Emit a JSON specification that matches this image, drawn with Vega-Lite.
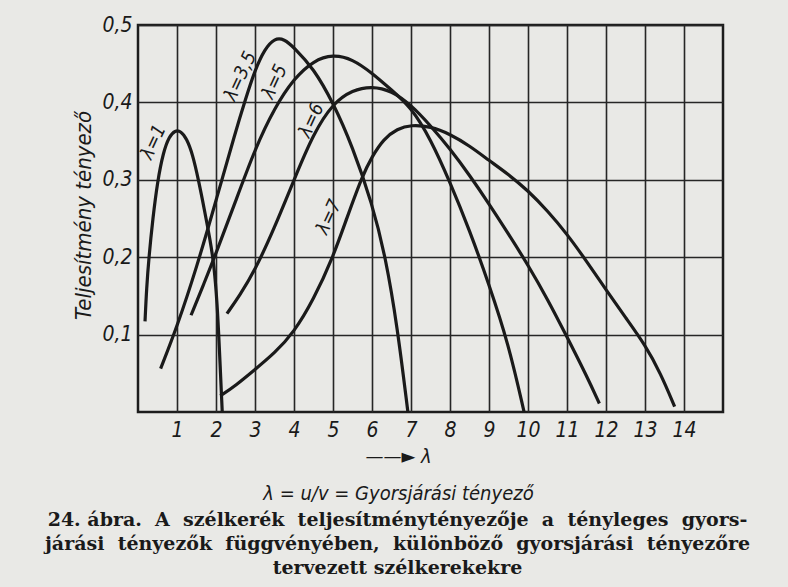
{
  "$schema": "https://vega.github.io/schema/vega-lite/v6.json",
  "width": 585,
  "height": 387,
  "autosize": "none",
  "padding": {"left": 138, "top": 25, "right": 65, "bottom": 175},
  "background": "#e9e9e6",
  "title": {
    "text": [
      "24. ábra.\u00a0 A\u00a0 szélkerék\u00a0 teljesítménytényezője\u00a0 a\u00a0 tényleges\u00a0 gyors-",
      "járási\u00a0 tényezők\u00a0 függvényében,\u00a0 különböző\u00a0 gyorsjárási\u00a0 tényezőre",
      "tervezett szélkerekekre"
    ],
    "orient": "bottom",
    "anchor": "middle",
    "dx": -33,
    "offset": 8,
    "font": "DejaVu Serif",
    "fontSize": 19,
    "fontWeight": "bold",
    "color": "#1a1a1a",
    "lineHeight": 24
  },
  "config": {
    "view": {"stroke": "#1c1c1c", "strokeWidth": 2.5},
    "axis": {
      "grid": true,
      "gridColor": "#262626",
      "gridWidth": 1.6,
      "gridOpacity": 1,
      "ticks": false,
      "domain": false,
      "labelFont": "DejaVu Sans Condensed, DejaVu Sans",
      "labelFontStyle": "italic",
      "labelFontSize": 21,
      "labelColor": "#1a1a1a",
      "titleFont": "DejaVu Sans Condensed, DejaVu Sans",
      "titleFontStyle": "italic",
      "titleFontWeight": "normal",
      "titleFontSize": 22,
      "titleColor": "#1a1a1a"
    }
  },
  "datasets": {
    "curves": [
      {"curve": "1", "lam": 0.18, "cp": 0.117},
      {"curve": "1", "lam": 0.22, "cp": 0.16},
      {"curve": "1", "lam": 0.28, "cp": 0.2},
      {"curve": "1", "lam": 0.38, "cp": 0.25},
      {"curve": "1", "lam": 0.5, "cp": 0.298},
      {"curve": "1", "lam": 0.65, "cp": 0.336},
      {"curve": "1", "lam": 0.8, "cp": 0.356},
      {"curve": "1", "lam": 0.95, "cp": 0.364},
      {"curve": "1", "lam": 1.1, "cp": 0.363},
      {"curve": "1", "lam": 1.25, "cp": 0.353},
      {"curve": "1", "lam": 1.4, "cp": 0.333},
      {"curve": "1", "lam": 1.55, "cp": 0.3},
      {"curve": "1", "lam": 1.7, "cp": 0.262},
      {"curve": "1", "lam": 1.85, "cp": 0.222},
      {"curve": "1", "lam": 1.95, "cp": 0.19},
      {"curve": "1", "lam": 2.03, "cp": 0.14},
      {"curve": "1", "lam": 2.08, "cp": 0.09},
      {"curve": "1", "lam": 2.16, "cp": 0.0},

      {"curve": "3,5", "lam": 0.58, "cp": 0.056},
      {"curve": "3,5", "lam": 1.0, "cp": 0.11},
      {"curve": "3,5", "lam": 1.5, "cp": 0.186},
      {"curve": "3,5", "lam": 2.0, "cp": 0.273},
      {"curve": "3,5", "lam": 2.5, "cp": 0.362},
      {"curve": "3,5", "lam": 2.75, "cp": 0.403},
      {"curve": "3,5", "lam": 3.0, "cp": 0.442},
      {"curve": "3,5", "lam": 3.25, "cp": 0.469},
      {"curve": "3,5", "lam": 3.5, "cp": 0.483},
      {"curve": "3,5", "lam": 3.75, "cp": 0.482},
      {"curve": "3,5", "lam": 4.0, "cp": 0.471},
      {"curve": "3,5", "lam": 4.5, "cp": 0.444},
      {"curve": "3,5", "lam": 5.0, "cp": 0.4},
      {"curve": "3,5", "lam": 5.5, "cp": 0.343},
      {"curve": "3,5", "lam": 6.0, "cp": 0.27},
      {"curve": "3,5", "lam": 6.35, "cp": 0.2},
      {"curve": "3,5", "lam": 6.65, "cp": 0.11},
      {"curve": "3,5", "lam": 6.92, "cp": 0.0},

      {"curve": "5", "lam": 1.36, "cp": 0.125},
      {"curve": "5", "lam": 1.7, "cp": 0.167},
      {"curve": "5", "lam": 2.0, "cp": 0.205},
      {"curve": "5", "lam": 2.5, "cp": 0.272},
      {"curve": "5", "lam": 3.0, "cp": 0.34},
      {"curve": "5", "lam": 3.5, "cp": 0.393},
      {"curve": "5", "lam": 4.0, "cp": 0.431},
      {"curve": "5", "lam": 4.5, "cp": 0.454},
      {"curve": "5", "lam": 5.0, "cp": 0.462},
      {"curve": "5", "lam": 5.5, "cp": 0.456},
      {"curve": "5", "lam": 6.0, "cp": 0.438},
      {"curve": "5", "lam": 6.5, "cp": 0.416},
      {"curve": "5", "lam": 7.0, "cp": 0.394},
      {"curve": "5", "lam": 7.5, "cp": 0.353},
      {"curve": "5", "lam": 8.0, "cp": 0.297},
      {"curve": "5", "lam": 8.5, "cp": 0.235},
      {"curve": "5", "lam": 9.0, "cp": 0.165},
      {"curve": "5", "lam": 9.5, "cp": 0.088},
      {"curve": "5", "lam": 9.9, "cp": 0.0},

      {"curve": "6", "lam": 2.28, "cp": 0.127},
      {"curve": "6", "lam": 2.6, "cp": 0.15},
      {"curve": "6", "lam": 3.0, "cp": 0.183},
      {"curve": "6", "lam": 3.5, "cp": 0.238},
      {"curve": "6", "lam": 4.0, "cp": 0.3},
      {"curve": "6", "lam": 4.5, "cp": 0.36},
      {"curve": "6", "lam": 5.0, "cp": 0.399},
      {"curve": "6", "lam": 5.5, "cp": 0.416},
      {"curve": "6", "lam": 6.0, "cp": 0.421},
      {"curve": "6", "lam": 6.5, "cp": 0.415},
      {"curve": "6", "lam": 7.0, "cp": 0.397},
      {"curve": "6", "lam": 7.5, "cp": 0.37},
      {"curve": "6", "lam": 8.0, "cp": 0.34},
      {"curve": "6", "lam": 8.5, "cp": 0.306},
      {"curve": "6", "lam": 9.0, "cp": 0.269},
      {"curve": "6", "lam": 9.5, "cp": 0.23},
      {"curve": "6", "lam": 10.0, "cp": 0.19},
      {"curve": "6", "lam": 10.5, "cp": 0.146},
      {"curve": "6", "lam": 11.0, "cp": 0.097},
      {"curve": "6", "lam": 11.5, "cp": 0.047},
      {"curve": "6", "lam": 11.83, "cp": 0.011},

      {"curve": "7", "lam": 2.11, "cp": 0.021},
      {"curve": "7", "lam": 2.5, "cp": 0.034},
      {"curve": "7", "lam": 3.0, "cp": 0.055},
      {"curve": "7", "lam": 3.5, "cp": 0.076},
      {"curve": "7", "lam": 4.0, "cp": 0.103},
      {"curve": "7", "lam": 4.5, "cp": 0.145},
      {"curve": "7", "lam": 5.0, "cp": 0.2},
      {"curve": "7", "lam": 5.35, "cp": 0.25},
      {"curve": "7", "lam": 5.75, "cp": 0.305},
      {"curve": "7", "lam": 6.0, "cp": 0.33},
      {"curve": "7", "lam": 6.3, "cp": 0.353},
      {"curve": "7", "lam": 6.65, "cp": 0.366},
      {"curve": "7", "lam": 7.0, "cp": 0.371},
      {"curve": "7", "lam": 7.5, "cp": 0.369},
      {"curve": "7", "lam": 8.0, "cp": 0.359},
      {"curve": "7", "lam": 8.5, "cp": 0.344},
      {"curve": "7", "lam": 9.0, "cp": 0.325},
      {"curve": "7", "lam": 9.5, "cp": 0.307},
      {"curve": "7", "lam": 10.0, "cp": 0.286},
      {"curve": "7", "lam": 10.5, "cp": 0.26},
      {"curve": "7", "lam": 11.0, "cp": 0.23},
      {"curve": "7", "lam": 11.5, "cp": 0.195},
      {"curve": "7", "lam": 12.0, "cp": 0.158},
      {"curve": "7", "lam": 12.5, "cp": 0.122},
      {"curve": "7", "lam": 13.0, "cp": 0.087},
      {"curve": "7", "lam": 13.4, "cp": 0.05},
      {"curve": "7", "lam": 13.76, "cp": 0.007}
    ],
    "labels": [
      {"label": "λ=1", "lam": 0.39, "cp": 0.349},
      {"label": "λ=3,5", "lam": 2.62, "cp": 0.434},
      {"label": "λ=5", "lam": 3.5, "cp": 0.427},
      {"label": "λ=6", "lam": 4.44, "cp": 0.377},
      {"label": "λ=7", "lam": 4.89, "cp": 0.252}
    ]
  },
  "layer": [
    {
      "data": {"name": "curves"},
      "mark": {"type": "line", "color": "#1a1a1a", "strokeWidth": 3.2, "interpolate": "basis", "clip": true},
      "encoding": {
        "x": {
          "field": "lam",
          "type": "quantitative",
          "scale": {"domain": [0, 15], "nice": false},
          "axis": {
            "values": [1, 2, 3, 4, 5, 6, 7, 8, 9, 10, 11, 12, 13, 14],
            "labelPadding": 7,
            "title": ["——► λ", "λ = u/v = Gyorsjárási tényező"],
            "titleFontSize": 20,
            "titleLineHeight": 37,
            "titleX": 260,
            "titlePadding": 6
          }
        },
        "y": {
          "field": "cp",
          "type": "quantitative",
          "scale": {"domain": [0, 0.5], "nice": false},
          "axis": {
            "values": [0.1, 0.2, 0.3, 0.4, 0.5],
            "labelExpr": "replace(format(datum.value, '.1f'), '.', ',')",
            "labelPadding": 6,
            "title": "Teljesítmény tényező",
            "titleY": 190,
            "titlePadding": 6
          }
        },
        "detail": {"field": "curve"},
        "order": {"field": "lam", "type": "quantitative"}
      }
    },
    {
      "data": {"name": "labels"},
      "mark": {
        "type": "text",
        "angle": -65,
        "font": "DejaVu Sans Condensed, DejaVu Sans",
        "fontStyle": "italic",
        "fontSize": 19,
        "color": "#1a1a1a"
      },
      "encoding": {
        "x": {"field": "lam", "type": "quantitative"},
        "y": {"field": "cp", "type": "quantitative"},
        "text": {"field": "label"}
      }
    }
  ]
}
